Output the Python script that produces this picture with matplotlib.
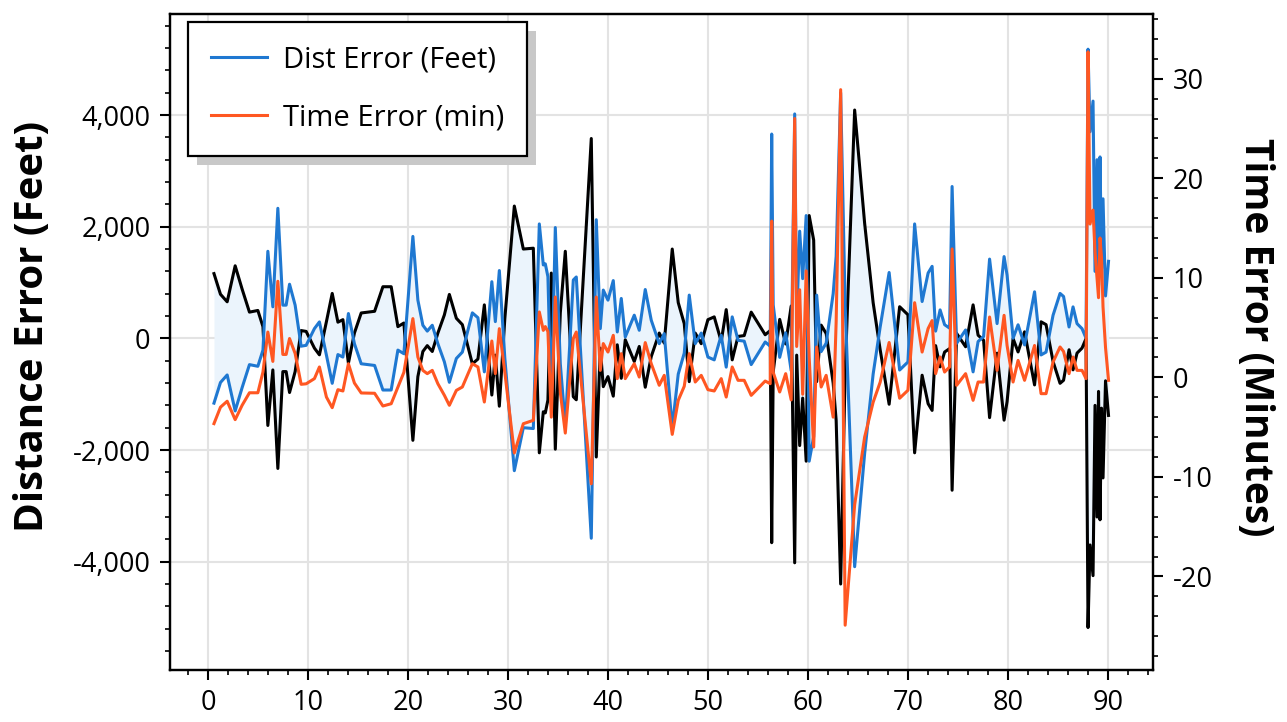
import numpy as np
import matplotlib.pyplot as plt
from matplotlib.ticker import MultipleLocator, FuncFormatter
from matplotlib.patches import Rectangle
from matplotlib.transforms import IdentityTransform

plt.rcParams['font.family'] = ['Open Sans', 'DejaVu Sans']
plt.rcParams['axes.unicode_minus'] = False

############################################################ data ############################################################
sample_x = [0.55, 1.2, 1.87, 2.67, 3.37, 4.1, 4.94, 5.45, 5.94, 6.44, 6.94, 7.44, 7.77, 8.11, 8.67, 9.27, 9.77, 10.6, 11.1, 11.8,
            12.38, 12.95, 13.45, 14.0, 14.6, 15.28, 16.62, 17.45, 18.28, 18.95, 19.55, 20.45, 20.95, 21.45, 21.89, 22.39, 22.95, 23.6,
            24.1, 24.8, 25.4, 26.4, 26.96, 27.6, 28.35, 28.7, 29.1, 29.65, 30.6, 31.5, 32.5, 33.1, 33.5, 33.7, 33.96, 34.3, 34.7,
            35.2, 35.7, 36.5, 36.8, 38.3, 38.8, 39.2, 39.5, 39.97, 40.5, 40.9, 41.3, 41.7, 42.6, 43.1, 43.7, 44.3, 45.1, 45.6, 46.4,
            47.0, 47.6, 48.1, 48.7, 49.3, 49.97, 50.6, 51.3, 51.8, 52.4, 52.98, 53.6, 54.3, 55.7, 56.2, 56.35, 56.5, 57.15, 57.75,
            58.3, 58.65, 58.85, 59.15, 59.45, 59.8, 60.1, 60.55, 60.85, 61.3, 61.8, 62.5, 62.8, 63.25, 63.7, 64.65, 65.65, 66.5,
            67.2, 68.1, 69.15, 69.98, 70.65, 71.4, 72.0, 72.4, 72.75, 73.2, 73.65, 74.15, 74.4, 74.85, 75.75, 76.5, 77.0, 77.55,
            78.15, 78.9, 79.6, 79.9, 80.5, 81.0, 81.65, 82.65, 83.3, 83.8, 84.5, 85.2, 85.55, 86.1, 86.5, 86.9, 87.4, 87.8, 88.0,
            88.2, 88.5, 88.7, 88.9, 89.05, 89.2, 89.35, 89.5, 89.75, 90.05]

dist_err = [-1160, -790, -655, -1300, -880, -470, -500, -210, 1560, 565, 2330, 595, 595, 970, 595, -140, -125, 175, 295, -300,
            -805, -290, -335, 445, -95, -455, -485, -925, -925, -210, -275, 1826, 685, 235, 130, 235, -95, -420,
            -787, -360, -246, 457, 370, -600, 1015, 300, 1215, -355, -2370, -1600, -1615, 2050, 1315, 1335, 1105, -1170, 1985,
            -455, -1560, 1045, 1100, -3580, 2125, 175, 865, 685, 1035, 115, 715, 25, 415, 145, 875, 325, -95, 85, -1600,
            -640, -265, 775, -95, 95, -335, -385, 55, -515, 385, -35, -50, -470, -65, -140, 3660, 600, -340, 100,
            -580, 4020, 300, 1920, 1070, 2200, -2200, -1760, 775, -237, -87, 800, 1470, 4400, 600, -4090, -2060, -640,
            200, 1180, -567, -423, 2050, 660, 1170, 1290, 130, 510, 245, 183, 2720, -90, 150, -600, -57, 33,
            1420, 265, 1465, 1135, 3, 243, -117, 834, -297, -246, 414, 805, 751, 204, 564, 264, 174, 3, 5180,
            3700, 4250, 1200, 3200, 950, 3250, 1250, 2500, 760, 1380]

time_err = [-4.65, -3.0, -2.4, -4.25, -2.8, -1.55, -1.55, 0.53, 4.55, 1.6, 9.65, 2.3, 2.3, 3.9, 2.4, -0.7, -0.65, -0.13, 1.04, -1.98,
            -3.05, -1.24, -1.37, 1.37, -0.57, -1.57, -1.6, -2.88, -2.65, -1.0, 0.5, 5.9, 2.04, 0.7, 0.37, 0.7, -0.64, -1.8,
            -2.81, -1.31, -0.97, 1.37, 1.04, -2.48, 3.65, 0.37, 4.89, 0.5, -7.6, -4.66, -4.32, 6.57, 4.72, 5.1, 4.6, -4.0, 8.07,
            -1.5, -5.6, 3.89, 4.55, -10.7, 8.07, 0.7, 3.39, 2.54, 4.22, -0.13, 2.38, -0.13, 1.37, 0.03, 3.49, 1.37, -0.8, 0.2, -5.73,
            -2.31, -0.9, 2.38, -0.47, 0.2, -1.24, -1.37, -0.13, -1.98, 1.04, -0.3, -0.3, -1.81, -0.37, -0.64, 15.7, 0.5, -1.47, 0.37,
            -2.27, 26.0, 3.1, 8.8, -1.7, 10.7, 2.0, -7.0, 3.05, -0.97, 0.2, -4.0, 5.6, 28.9, -24.9, -12.8, -6.0, -2.5,
            -0.5, 3.5, -2.1, -1.3, 7.5, 2.54, 4.9, 5.7, 0.37, 2.04, 0.53, 1.04, 12.9, -0.8, 0.37, -2.31, -0.47, -0.47,
            6.06, 0.7, 6.23, 3.2, -0.47, 1.7, -0.3, 3.2, -1.64, -1.64, 1.54, 3.05, 2.6, 0.37, 2.04, 0.7, 0.7, -0.13, 32.7,
            15.4, 16.8, 12.6, 10.0, 8.0, 14.0, 12.0, 7.07, 3.0, -0.3]

x_ticks = np.arange(0, 100, 10)
dist_ticks = [-4000, -2000, 0, 2000, 4000]
time_ticks = [-20, -10, 0, 10, 20, 30]

############################################################ plotting ############################################################
sample_x = np.array(sample_x)
dist_err = np.array(dist_err, dtype=float)
mirror = -dist_err

blue = "#1f78d1"
orange = "#ff5722"
lw = 2.2

fig = plt.figure(figsize=(12.87, 7.22), dpi=100)
ax = fig.add_axes([170/1287, 52/722, 983/1287, 656/722])
ax2 = ax.twinx()

ax.fill_between(sample_x, dist_err, mirror, color="#ebf4fc", linewidth=0, zorder=1)
ax.plot(sample_x, mirror, color="black", linewidth=lw, zorder=2)
l1, = ax.plot(sample_x, dist_err, color=blue, linewidth=lw, zorder=3, label="Dist Error (Feet)")
l2, = ax2.plot(sample_x, time_err, color=orange, linewidth=lw, zorder=3, label="Time Error (min)")

ax.set_xlim(-3.85, 94.5)
ax.set_ylim(-5940, 5810)
ax2.set_ylim(-29.4, 36.5)

ax.set_xticks(x_ticks)
ax.xaxis.set_minor_locator(MultipleLocator(2))
ax.set_yticks(dist_ticks)
ax.yaxis.set_minor_locator(MultipleLocator(400))
ax.yaxis.set_major_formatter(FuncFormatter(lambda v, p: f"{v:,.0f}"))
ax2.set_yticks(time_ticks)
ax2.yaxis.set_minor_locator(MultipleLocator(2))

ax.grid(True, which="major", color="#e3e3e3", linewidth=1.5, zorder=0)
ax.set_axisbelow(True)

for a in (ax, ax2):
    for s in a.spines.values():
        s.set_linewidth(1.6)
        s.set_color("black")
    a.tick_params(which="major", direction="out", length=7, width=1.5, labelsize=19.5, pad=7)
    a.tick_params(which="minor", direction="out", length=3.5, width=1.2)
ax.tick_params(top=False, right=False, which="both")
ax2.tick_params(axis="y", which="both", right=True)

ax.set_ylabel("Distance Error (Feet)", fontsize=29, fontweight="bold")
ax.yaxis.set_label_coords(-0.12, 0.523)
ax2.set_ylabel("Time Error (Minutes)", fontsize=28, fontweight="bold", rotation=270, va="bottom")
ax2.yaxis.set_label_coords(1.084, 0.507)

leg = ax2.legend(handles=[l1, l2], loc="upper left", bbox_to_anchor=(18/983, 1 - 8/656),
                 fontsize=21, frameon=True, fancybox=False, framealpha=1, edgecolor="black",
                 handlelength=1.9, handletextpad=0.55, labelspacing=1.0, borderpad=0.8, borderaxespad=0)
leg.get_frame().set_linewidth(1.6)
leg.set_zorder(10)

fig.canvas.draw()
bb = leg.get_window_extent()
shadow = Rectangle((bb.x0 + 9, bb.y0 - 9), bb.width, bb.height, transform=IdentityTransform(),
                   facecolor="#c8c8c8", edgecolor="none", zorder=9, clip_on=False)
ax2.add_artist(shadow)

fig.savefig("out.png", dpi=100)
